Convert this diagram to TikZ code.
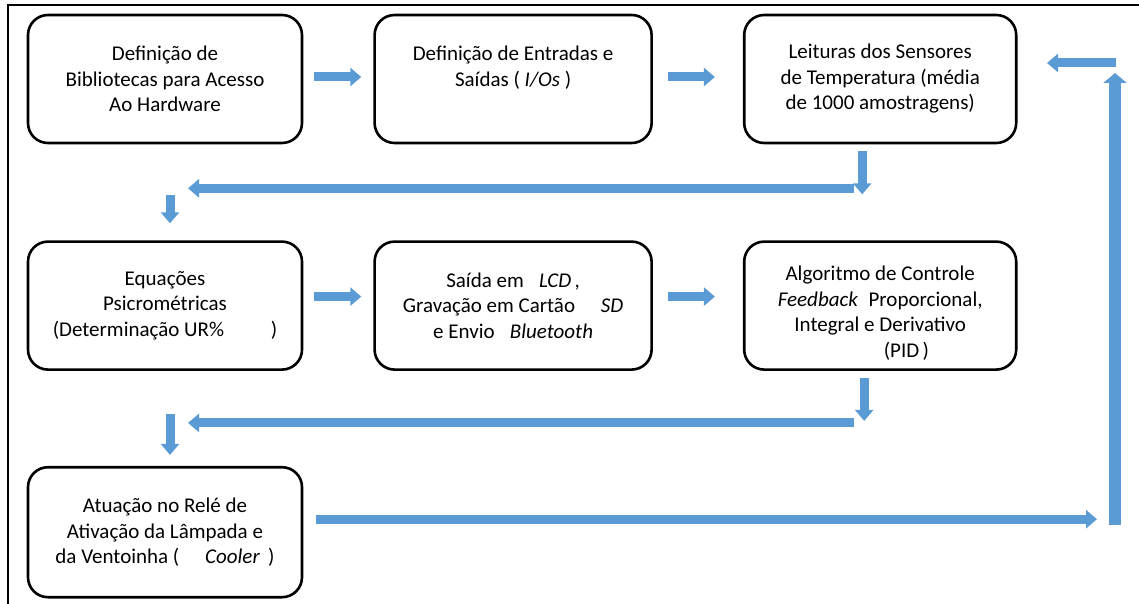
\documentclass[tikz,border=0pt]{standalone}
\usepackage{fontspec}
\setmainfont{Carlito}
\usetikzlibrary{positioning,arrows.meta}
\definecolor{arrowblue}{HTML}{5B9BD5}
\tikzset{
  stepbox/.style={draw, line width=2.6pt, rounded corners=20pt, align=center,
    minimum height=128pt, inner sep=4pt, font=\fontsize{21}{25.5}\selectfont},
  blockarrow/.style={draw=arrowblue, line width=9pt, -{Triangle[width=18pt,length=11pt]}},
  bigarrow/.style={draw=arrowblue, line width=12pt, -{Triangle[width=23pt,length=10pt]}},
}
\begin{document}
\begin{tikzpicture}[x=1pt,y=-1pt]
\useasboundingbox (0,0) rectangle (1139,604);
% frame
\begin{scope}
  \clip (0,0) rectangle (1139,604);
  \draw[line width=1.2pt] (8,5) rectangle (1200,700);
\end{scope}

% first row
\node[stepbox, minimum width=274pt] (lib) at (165,79)
  {Definição de\\Bibliotecas para Acesso\\Ao Hardware};
\node[stepbox, minimum width=277pt, right=70pt of lib] (io)
  {Definição de Entradas e\\Saídas ( \textit{I/Os} )\\ ~};
\node[stepbox, minimum width=272pt, right=90pt of io] (sens)
  {Leituras dos Sensores\\de Temperatura (média\\de 1000 amostragens)};

% second row
\node[stepbox, minimum width=274pt, below=96pt of lib] (psy)
  {Equações\\Psicrométricas\\(Determinação UR\% \quad\quad)};
\node[stepbox, minimum width=277pt, below=96pt of io] (out)
  {Saída em \enspace\textit{LCD}\,,\\Gravação em Cartão \quad\textit{SD}\\e Envio \enspace\textit{Bluetooth}};
\node[stepbox, minimum width=272pt, below=96pt of sens] (pid)
  {\rule{0pt}{30pt}Algoritmo de Controle\\\textit{Feedback}\enspace Proporcional,\\Integral e Derivativo\\\hspace*{2.5em}(PID\,)};

% third row
\node[stepbox, minimum width=274pt, minimum height=130pt, below=95pt of psy] (act)
  {Atuação no Relé de\\Ativação da Lâmpada e\\da Ventoinha ( \quad\textit{Cooler}\, )};

% bends and return path
\coordinate (row1) at ([yshift=-44pt]sens.south);
\coordinate (row2) at ([yshift=-52pt]pid.south);
\coordinate (looptop) at (1115,73);
\coordinate (loopbot) at ([yshift=7pt]act.east -| looptop);

\draw[blockarrow] ([xshift=11pt,yshift=2pt]lib.east) -- ([xshift=-12pt,yshift=2pt]io.west);
\draw[blockarrow] ([xshift=15pt,yshift=2pt]io.east) -- ([xshift=-28pt,yshift=2pt]sens.west);
\draw[blockarrow] ([xshift=-18pt,yshift=-7pt]sens.south) -- ([xshift=-18pt,yshift=-50pt]sens.south);
\draw[blockarrow] ([xshift=-26pt]row1) -- ([xshift=23pt]psy.north |- row1);
\draw[blockarrow] ([xshift=5pt,yshift=-7pt]psy.north |- row1) -- ([xshift=5pt,yshift=17pt]psy.north);

\draw[blockarrow] ([xshift=11pt,yshift=9pt]psy.east) -- ([xshift=-12pt,yshift=9pt]out.west);
\draw[blockarrow] ([xshift=15pt,yshift=9pt]out.east) -- ([xshift=-28pt,yshift=9pt]pid.west);
\draw[blockarrow] ([xshift=-16pt,yshift=-7pt]pid.south) -- ([xshift=-16pt,yshift=-50pt]pid.south);
\draw[blockarrow] ([xshift=-26pt]row2) -- ([xshift=23pt]act.north |- row2);
\draw[blockarrow] ([xshift=5pt,yshift=9pt]act.north |- row2) -- ([xshift=5pt,yshift=11pt]act.north);

\draw[blockarrow] ([xshift=13pt,yshift=13pt]act.east) -- ([xshift=-18pt,yshift=6pt]loopbot);
\draw[bigarrow] (loopbot) -- (looptop);
\draw[blockarrow] ([xshift=1pt,yshift=10pt]looptop) -- ([xshift=-68pt,yshift=10pt]looptop);
\end{tikzpicture}
\end{document}
